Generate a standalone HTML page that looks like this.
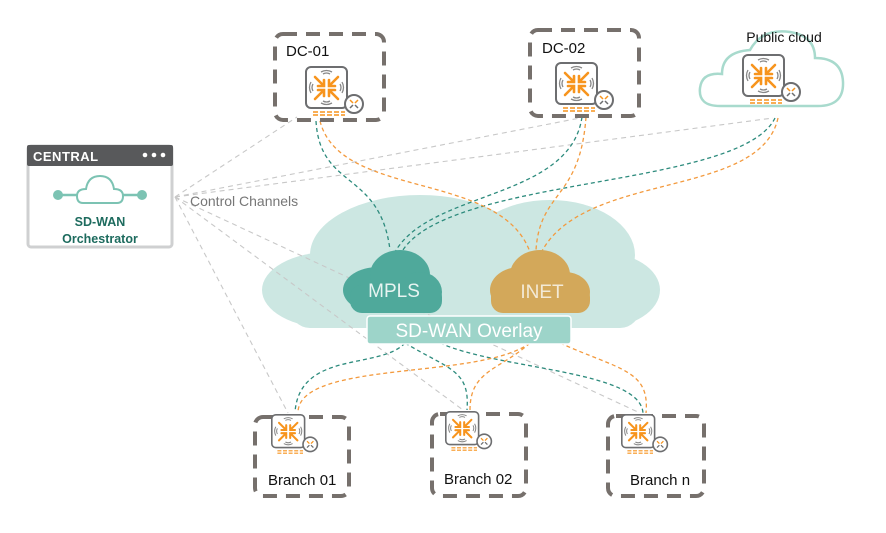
<!DOCTYPE html>
<html><head><meta charset="utf-8"><style>
html,body{margin:0;padding:0;background:#fff;}
svg{display:block;font-family:"Liberation Sans",Arial,sans-serif;}
</style></head><body>
<svg width="886" height="533" viewBox="0 0 886 533" xmlns="http://www.w3.org/2000/svg">
<defs>
<g id="dev">
  <rect x="1" y="1" width="41" height="41" rx="5" fill="#fff" stroke="#6d6e70" stroke-width="2"/>
  <g stroke="#f7941d" stroke-width="2.6" fill="none" stroke-linecap="round">
    <path d="M10 11 L19 20 M19 14 V20 H13"/>
    <path d="M33 11 L24 20 M24 14 V20 H30"/>
    <path d="M10 33 L19 24 M19 30 V24 H13"/>
    <path d="M33 33 L24 24 M24 30 V24 H30"/>
  </g>
  <g stroke="#888" stroke-width="1.3" fill="none">
    <path d="M16 6 Q21.5 3 27 6 M18 8 Q21.5 6 25 8"/>
    <path d="M16 37 Q21.5 40 27 37 M18 35 Q21.5 37 25 35"/>
    <path d="M6 16 Q3 21.5 6 27 M8 18 Q6 21.5 8 25"/>
    <path d="M37 16 Q40 21.5 37 27 M35 18 Q37 21.5 35 25"/>
  </g>
  <circle cx="49" cy="38" r="9" fill="#fff" stroke="#6d6e70" stroke-width="2"/>
  <g stroke="#f7941d" stroke-width="1.5"><path d="M45 34 l3 3 M53 34 l-3 3"/></g>
  <g stroke="#6d6e70" stroke-width="1.5"><path d="M45 42 l3 -3 M53 42 l-3 -3"/></g>
  <path d="M8 46 H40 M8 49 H40" stroke="#f7941d" stroke-width="1.5" stroke-dasharray="5 2"/>
</g>
</defs>

<!-- big cloud -->
<g fill="#cce7e2">
  <ellipse cx="330" cy="290" rx="68" ry="38"/>
  <ellipse cx="420" cy="255" rx="110" ry="60"/>
  <ellipse cx="550" cy="255" rx="85" ry="55"/>
  <ellipse cx="600" cy="290" rx="60" ry="38"/>
  <rect x="290" y="270" width="350" height="58" rx="20"/>
</g>

<!-- control channel gray lines -->
<g stroke="#c8c8c8" stroke-width="1.1" fill="none" stroke-dasharray="5 4">
  <path d="M175 197 L297 117"/>
  <path d="M175 197 L580 118"/>
  <path d="M175 197 L773 118"/>
  <path d="M175 197 L288 413"/>
  <path d="M175 197 L463 410"/>
  <path d="M175 197 L640 413"/>
</g>

<!-- teal & orange wan lines -->
<g stroke="#2d8b7d" stroke-width="1.3" fill="none" stroke-dasharray="4 3">
  <path d="M316 121 C320 190 380 170 390 250"/>
  <path d="M582 117 C570 200 430 190 395 252"/>
  <path d="M775 118 C740 190 440 175 400 255"/>
  <path d="M405 343 C380 370 300 350 295 412"/>
  <path d="M405 343 C450 370 470 370 467 410"/>
  <path d="M440 343 C500 370 640 370 643 413"/>
</g>
<g stroke="#f39a3e" stroke-width="1.3" fill="none" stroke-dasharray="4 3">
  <path d="M320 121 C340 200 500 170 530 252"/>
  <path d="M586 117 C580 200 540 190 536 250"/>
  <path d="M778 118 C760 200 580 170 540 255"/>
  <path d="M530 343 C480 380 300 360 298 412"/>
  <path d="M530 343 C500 370 470 370 470 410"/>
  <path d="M560 343 C620 370 650 370 646 413"/>
</g>

<!-- MPLS cloud -->
<g fill="#4fa99b">
  <ellipse cx="378" cy="290" rx="35" ry="23"/>
  <ellipse cx="400" cy="275" rx="30" ry="25"/>
  <ellipse cx="420" cy="292" rx="22" ry="20"/>
  <rect x="350" y="285" width="92" height="28" rx="12"/>
</g>
<text x="394" y="297" font-size="19" fill="#e8f4f1" text-anchor="middle">MPLS</text>
<!-- INET cloud -->
<g fill="#d3a85a">
  <ellipse cx="520" cy="290" rx="30" ry="23"/>
  <ellipse cx="540" cy="275" rx="30" ry="25"/>
  <ellipse cx="565" cy="292" rx="25" ry="20"/>
  <rect x="491" y="285" width="99" height="28" rx="12"/>
</g>
<text x="542" y="298" font-size="19" fill="#f3ead6" text-anchor="middle">INET</text>

<!-- overlay -->
<rect x="367" y="316" width="204" height="28" rx="3" fill="#9dd4c9" stroke="#fff" stroke-width="1.5"/>
<text x="469" y="337" font-size="19" fill="#fff" text-anchor="middle">SD-WAN Overlay</text>

<!-- Central -->
<rect x="28" y="146" width="144" height="101" rx="3" fill="#fff" stroke="#cfd0d1" stroke-width="3"/>
<rect x="27" y="145" width="146" height="21" rx="2" fill="#58595b"/>
<text x="33" y="161" font-size="13" font-weight="bold" fill="#fff" letter-spacing="0.5">CENTRAL</text>
<circle cx="145" cy="155" r="2.3" fill="#fff"/><circle cx="154" cy="155" r="2.3" fill="#fff"/><circle cx="163" cy="155" r="2.3" fill="#fff"/>
<path d="M58 195 H78 M122 195 H142" stroke="#7cc3b3" stroke-width="2.5"/>
<circle cx="58" cy="195" r="5" fill="#7cc3b3"/><circle cx="142" cy="195" r="5" fill="#7cc3b3"/>
<path d="M83 203 Q77 203 77 196 Q77 189 86 189 Q88 176 100 176 Q112 176 114 189 Q123 189 123 196 Q123 203 117 203 Z" fill="#fff" stroke="#7cc3b3" stroke-width="2"/>
<text x="100" y="226" font-size="12.5" font-weight="bold" fill="#1d6b5e" text-anchor="middle">SD-WAN</text>
<text x="100" y="243" font-size="12.5" font-weight="bold" fill="#1d6b5e" text-anchor="middle">Orchestrator</text>
<text x="190" y="206" font-size="14" fill="#777">Control Channels</text>

<!-- DC boxes -->
<g fill="none" stroke="#76706c" stroke-width="4" stroke-dasharray="14 9">
  <rect x="275" y="34" width="109" height="86" rx="8"/>
  <rect x="530" y="30" width="109" height="86" rx="8"/>
  <rect x="255" y="417" width="94" height="79" rx="8"/>
  <rect x="432" y="414" width="94" height="82" rx="8"/>
  <rect x="608" y="416" width="96" height="80" rx="8"/>
</g>
<text x="286" y="56" font-size="15" fill="#111">DC-01</text>
<text x="542" y="53" font-size="15" fill="#111">DC-02</text>

<!-- public cloud -->
<path d="M720 106 Q698 106 700 88 Q702 72 722 74 Q722 52 750 50 Q762 28 790 32 Q815 36 815 58 Q842 58 843 82 Q844 106 818 106 Z" fill="#fff" stroke="#a8dacd" stroke-width="2.5"/>
<text x="784" y="42" font-size="14" fill="#111" text-anchor="middle">Public cloud</text>

<use href="#dev" x="305" y="66"/>
<use href="#dev" x="555" y="62"/>
<use href="#dev" x="742" y="54"/>
<use href="#dev" transform="translate(271,414) scale(0.8)"/>
<use href="#dev" transform="translate(445,411) scale(0.8)"/>
<use href="#dev" transform="translate(621,414) scale(0.8)"/>

<text x="268" y="485" font-size="15" fill="#111">Branch 01</text>
<text x="444" y="484" font-size="15" fill="#111">Branch 02</text>
<text x="630" y="485" font-size="15" fill="#111">Branch n</text>
</svg>
</body></html>
